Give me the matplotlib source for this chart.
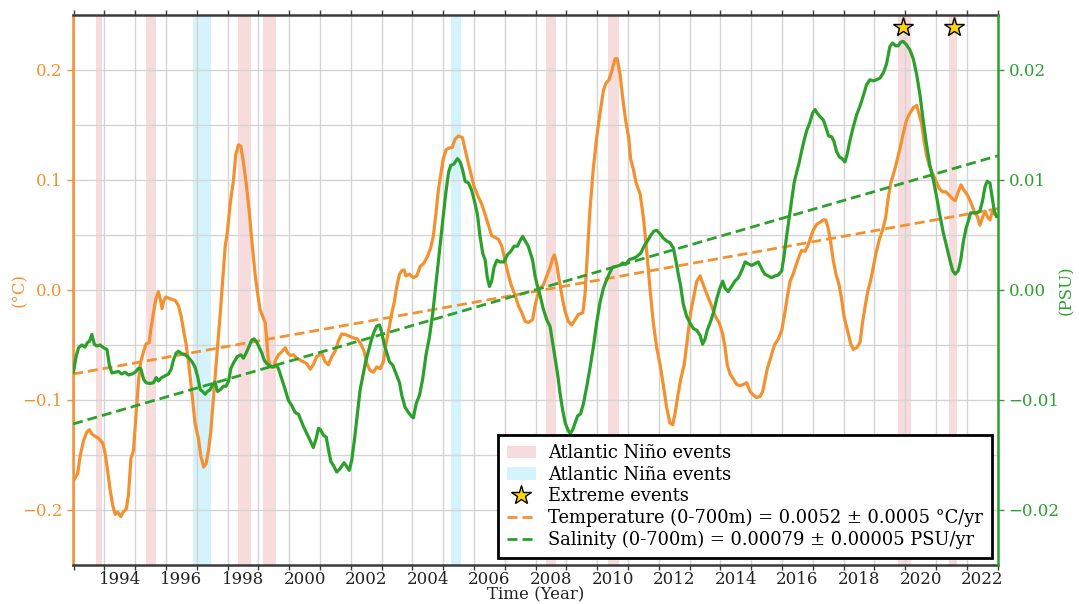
import matplotlib
matplotlib.use("Agg")
import matplotlib.pyplot as plt
import matplotlib.ticker as mticker
from matplotlib.patches import Patch
from matplotlib.lines import Line2D

plt.rcParams['font.family'] = ['DejaVu Serif']
plt.rcParams['axes.unicode_minus'] = True

# ---------------- data ----------------
temp_year = [1992.49, 1992.52, 1992.63, 1992.71, 1992.82, 1992.93, 1993.01, 1993.09, 1993.20, 1993.31,
             1993.44, 1993.52, 1993.60, 1993.69, 1993.77, 1993.85, 1993.93, 1994.03, 1994.12, 1994.21,
             1994.28, 1994.36, 1994.44, 1994.52, 1994.61, 1994.68, 1994.77, 1994.85, 1994.95, 1995.02,
             1995.09, 1995.17, 1995.25, 1995.31, 1995.37, 1995.43, 1995.50, 1995.63, 1995.80, 1995.90,
             1995.99, 1996.07, 1996.15, 1996.24, 1996.34, 1996.44, 1996.55, 1996.63, 1996.72, 1996.80,
             1996.88, 1996.95, 1997.04, 1997.15, 1997.26, 1997.36, 1997.42, 1997.49, 1997.58, 1997.69,
             1997.76, 1997.85, 1997.93, 1998.01, 1998.10, 1998.20, 1998.28, 1998.39, 1998.48, 1998.55,
             1998.64, 1998.72, 1998.77, 1998.82, 1998.91, 1998.99, 1999.06, 1999.15, 1999.26, 1999.37,
             1999.44, 1999.53, 1999.64, 1999.74, 1999.85,
             1999.96, 2000.07, 2000.18, 2000.28, 2000.39, 2000.56, 2000.66, 2000.77, 2000.88, 2000.99,
             2001.10, 2001.20, 2001.31, 2001.45, 2001.58, 2001.71, 2001.82, 2001.93, 2002.02, 2002.12,
             2002.23, 2002.34, 2002.45, 2002.56, 2002.64, 2002.75, 2002.83, 2002.91, 2002.99, 2003.08,
             2003.15, 2003.23, 2003.29, 2003.40, 2003.53, 2003.64, 2003.75, 2003.86, 2003.98, 2004.09,
             2004.18, 2004.27, 2004.34, 2004.43, 2004.50, 2004.59, 2004.68, 2004.79, 2004.88, 2004.99,
             2005.12, 2005.21, 2005.29, 2005.39, 2005.50, 2005.64, 2005.75, 2005.86, 2005.98, 2006.07,
             2006.18, 2006.29, 2006.40, 2006.48, 2006.58, 2006.70, 2006.83, 2006.94, 2007.05, 2007.16,
             2007.26,
             2007.40, 2007.48, 2007.56, 2007.64, 2007.75, 2007.86, 2007.97, 2008.05, 2008.11, 2008.18,
             2008.27, 2008.37, 2008.45, 2008.56, 2008.67, 2008.78, 2008.89, 2009.03, 2009.10, 2009.18,
             2009.26, 2009.37, 2009.48, 2009.59, 2009.70, 2009.78, 2009.88, 2009.97, 2010.08, 2010.15,
             2010.24, 2010.33, 2010.42, 2010.52, 2010.58, 2010.67, 2010.76, 2010.89, 2011.00, 2011.10,
             2011.21, 2011.32, 2011.43, 2011.54, 2011.65, 2011.75, 2011.86, 2011.95, 2012.02, 2012.11,
             2012.21, 2012.32, 2012.42, 2012.53, 2012.64, 2012.73, 2012.84, 2012.94, 2013.07, 2013.21,
             2013.33, 2013.46, 2013.57, 2013.65, 2013.72, 2013.81, 2013.92, 2014.03, 2014.13, 2014.24,
             2014.35, 2014.46, 2014.57, 2014.67, 2014.78,
             2014.87, 2014.94, 2015.02, 2015.11, 2015.19, 2015.27, 2015.38, 2015.49, 2015.59, 2015.68,
             2015.76, 2015.86, 2015.95, 2016.05, 2016.13, 2016.24, 2016.33, 2016.41, 2016.51, 2016.62,
             2016.73, 2016.84, 2016.92, 2017.00, 2017.08, 2017.16, 2017.25, 2017.35, 2017.43, 2017.51,
             2017.62, 2017.73, 2017.81, 2017.92, 2018.03, 2018.11, 2018.20, 2018.28, 2018.37, 2018.46,
             2018.55, 2018.66, 2018.76, 2018.86, 2018.95, 2019.03, 2019.13, 2019.22, 2019.33, 2019.43,
             2019.54, 2019.65, 2019.76, 2019.87, 2019.94, 2020.03, 2020.11, 2020.19, 2020.28, 2020.38,
             2020.48, 2020.60, 2020.71, 2020.82, 2020.93, 2021.04, 2021.12, 2021.22, 2021.31, 2021.40,
             2021.49, 2021.58, 2021.67, 2021.76, 2021.84, 2021.92, 2022.00, 2022.09, 2022.16, 2022.25,
             2022.33, 2022.41, 2022.49]

temp_val = [-0.173, -0.172, -0.167, -0.151, -0.137, -0.129, -0.127, -0.131, -0.133, -0.135,
            -0.139, -0.148, -0.164, -0.183, -0.196, -0.204, -0.202, -0.206, -0.2015, -0.199,
            -0.186, -0.153, -0.146, -0.116, -0.081, -0.065, -0.056, -0.049, -0.048, -0.033,
            -0.021, -0.008, -0.0015, -0.008, -0.017, -0.0095, -0.0063, -0.008, -0.0095, -0.014,
            -0.024, -0.037, -0.049, -0.068, -0.094, -0.121, -0.135, -0.151, -0.161, -0.158,
            -0.145, -0.129, -0.097, -0.059, -0.021, 0.0175, 0.040, 0.0526, 0.078, 0.100,
            0.1226, 0.132, 0.1306, 0.116, 0.097, 0.0717, 0.046, 0.0144, -0.0047, -0.0175,
            -0.024, -0.030, -0.046, -0.0636, -0.070, -0.070, -0.0636, -0.059, -0.056, -0.0525,
            -0.057, -0.0595, -0.059, -0.062, -0.0636,
            -0.0653, -0.067, -0.072, -0.068, -0.0605, -0.058, -0.065, -0.068, -0.0605, -0.0557,
            -0.046, -0.040, -0.0404, -0.042, -0.0436, -0.0445, -0.049, -0.0557, -0.067, -0.073,
            -0.0748, -0.070, -0.0716, -0.065, -0.049, -0.0334, -0.0207, -0.011, 0.0032, 0.0144,
            0.0175, 0.0182, 0.0128, 0.0144, 0.0112, 0.0128, 0.0214, 0.024, 0.030, 0.0382,
            0.0494, 0.0717, 0.0908, 0.1067, 0.1194, 0.1274, 0.129, 0.1296, 0.137, 0.140,
            0.1386, 0.1274, 0.1179, 0.1067, 0.094, 0.0844, 0.078, 0.0685, 0.0574, 0.0494,
            0.0478, 0.0462, 0.0398, 0.0303, 0.0175, 0.0048, -0.0047, -0.0143, -0.0207, -0.0286,
            -0.0296,
            -0.027, -0.0143, -0.0047, 0.0016, 0.0048, 0.0128, 0.0207, 0.0287, 0.0319, 0.0239,
            0.008, -0.0079, -0.019, -0.0286, -0.0318, -0.027, -0.0222, -0.0207, -0.0047, 0.0335,
            0.0717, 0.1099, 0.1386, 0.1608, 0.1815, 0.1879, 0.1911, 0.199, 0.2102, 0.2102,
            0.1959, 0.1736, 0.1545, 0.1386, 0.1194, 0.1099, 0.0972, 0.0876, 0.0653, 0.0367,
            0.0016, -0.030, -0.0525, -0.068, -0.0875, -0.1066, -0.121, -0.1225, -0.113, -0.097,
            -0.081, -0.068, -0.046, -0.0207, -0.0047, 0.008, 0.0128, 0.0048, -0.0047, -0.0143,
            -0.0238, -0.030, -0.0397, -0.0525, -0.068, -0.0764, -0.081, -0.086, -0.0869, -0.086,
            -0.0843, -0.0923, -0.0955, -0.0977, -0.097,
            -0.0923, -0.0827, -0.0716, -0.0636, -0.0557, -0.049, -0.0445, -0.0366, -0.0207, -0.0047,
            0.008, 0.0144, 0.0223, 0.0303, 0.036, 0.0351, 0.0398, 0.0462, 0.0542, 0.0596,
            0.0615, 0.0637, 0.0637, 0.0558, 0.043, 0.0271, 0.0144, 0.0048, -0.0079, -0.0238,
            -0.0366, -0.049, -0.054, -0.0525, -0.0477, -0.030, -0.0143, -0.0015, 0.008, 0.0207,
            0.0335, 0.0462, 0.0542, 0.0653, 0.0844, 0.0972, 0.1067, 0.1163, 0.129, 0.1417,
            0.1545, 0.1608, 0.1656, 0.1678, 0.1608, 0.1513, 0.1354, 0.1226, 0.1131, 0.1067,
            0.1003, 0.0924, 0.0892, 0.0892, 0.086, 0.0828, 0.0812, 0.0892, 0.0956, 0.0908,
            0.0876, 0.0828, 0.0765, 0.0701, 0.0669, 0.0589, 0.0653, 0.0717, 0.0669, 0.0637,
            0.0717, 0.0685, 0.0669]

sal_year = [1992.49, 1992.58, 1992.66, 1992.77, 1992.87, 1992.95, 1993.01, 1993.09, 1993.17, 1993.25,
            1993.36, 1993.47, 1993.58, 1993.66, 1993.74, 1993.85, 1993.96, 1994.06, 1994.17, 1994.28,
            1994.39, 1994.50, 1994.61, 1994.68, 1994.77, 1994.85, 1994.98, 1995.09, 1995.18, 1995.25,
            1995.36, 1995.47, 1995.58, 1995.67, 1995.74, 1995.83, 1995.90, 1996.01, 1996.12, 1996.23,
            1996.34, 1996.44, 1996.52, 1996.61, 1996.69, 1996.77, 1996.84, 1996.93, 1997.02, 1997.09,
            1997.17, 1997.26, 1997.36, 1997.45, 1997.53, 1997.60, 1997.71, 1997.82, 1997.93, 1998.01,
            1998.10, 1998.20, 1998.28, 1998.36, 1998.45, 1998.53, 1998.61, 1998.68, 1998.77, 1998.88,
            1998.99, 1999.07, 1999.15, 1999.26, 1999.37, 1999.47, 1999.58, 1999.69, 1999.80,
            1999.96, 2000.07, 2000.18, 2000.28, 2000.37, 2000.45, 2000.52, 2000.61, 2000.70, 2000.77,
            2000.85, 2000.93, 2001.04, 2001.15, 2001.28, 2001.37, 2001.45, 2001.53, 2001.62, 2001.71,
            2001.80, 2001.89, 2001.98, 2002.07, 2002.16, 2002.25, 2002.34, 2002.43, 2002.50, 2002.58,
            2002.67, 2002.75, 2002.86, 2002.97, 2003.08, 2003.15, 2003.26, 2003.37, 2003.46, 2003.53,
            2003.62, 2003.73, 2003.83, 2003.94, 2004.05, 2004.16, 2004.27, 2004.37, 2004.48, 2004.58,
            2004.67, 2004.74, 2004.85, 2004.96, 2005.05, 2005.12, 2005.21, 2005.32, 2005.42, 2005.51,
            2005.61, 2005.69, 2005.78, 2005.86, 2005.93, 2006.00, 2006.07, 2006.15, 2006.24, 2006.34,
            2006.47, 2006.58, 2006.69, 2006.80, 2006.91, 2006.99, 2007.08, 2007.16, 2007.26,
            2007.40, 2007.48, 2007.56, 2007.64, 2007.75, 2007.86, 2007.97, 2008.05, 2008.13, 2008.22,
            2008.29, 2008.38, 2008.46, 2008.55, 2008.62, 2008.70, 2008.78, 2008.86, 2008.96, 2009.05,
            2009.16, 2009.26, 2009.37, 2009.48, 2009.59, 2009.70, 2009.81, 2009.91, 2010.00, 2010.11,
            2010.22, 2010.33, 2010.43, 2010.54, 2010.67, 2010.78, 2010.91, 2011.02, 2011.13, 2011.23,
            2011.34, 2011.43, 2011.54, 2011.65, 2011.75, 2011.86, 2011.97, 2012.05, 2012.13, 2012.21,
            2012.29, 2012.40, 2012.51, 2012.62, 2012.73, 2012.84, 2012.92, 2013.00, 2013.07, 2013.18,
            2013.27, 2013.38, 2013.48, 2013.57, 2013.65, 2013.75, 2013.86, 2013.97, 2014.08, 2014.19,
            2014.30, 2014.40, 2014.51, 2014.62, 2014.73,
            2014.87, 2014.94, 2015.05, 2015.16, 2015.27, 2015.38, 2015.49, 2015.56, 2015.65, 2015.73,
            2015.81, 2015.89, 2015.97, 2016.06, 2016.13, 2016.21, 2016.30, 2016.41, 2016.49, 2016.57,
            2016.64, 2016.73, 2016.84, 2016.92, 2017.01, 2017.11, 2017.18, 2017.27, 2017.36, 2017.45,
            2017.54, 2017.62, 2017.70, 2017.81, 2017.92, 2018.03, 2018.14, 2018.24, 2018.35, 2018.46,
            2018.57, 2018.68, 2018.79, 2018.89, 2019.00, 2019.09, 2019.19, 2019.27, 2019.35, 2019.43,
            2019.54, 2019.65, 2019.76, 2019.87, 2019.98, 2020.08, 2020.19, 2020.30, 2020.41, 2020.52,
            2020.62, 2020.73, 2020.84, 2020.95, 2021.04, 2021.12, 2021.22, 2021.30, 2021.38, 2021.47,
            2021.54, 2021.62, 2021.71, 2021.81, 2021.92, 2022.01, 2022.09, 2022.16, 2022.25, 2022.32,
            2022.39, 2022.46]

sal_val = [-0.00748, -0.00605, -0.00525, -0.00500, -0.00519, -0.00477, -0.00468, -0.00404, -0.00493, -0.00509,
           -0.00500, -0.00525, -0.00540, -0.00684, -0.00754, -0.00748, -0.00741, -0.00764, -0.00748, -0.00773,
           -0.00764, -0.00748, -0.00710, -0.00716, -0.00812, -0.00843, -0.00850, -0.00843, -0.00796, -0.00827,
           -0.00796, -0.00780, -0.00764, -0.00716, -0.00636, -0.00573, -0.00557, -0.00579, -0.00589, -0.00614,
           -0.00652, -0.00700, -0.00780, -0.00907, -0.00923, -0.00948, -0.00923, -0.00907, -0.00859, -0.00837,
           -0.00923, -0.00907, -0.00875, -0.00875, -0.00827, -0.00716, -0.00652, -0.00605, -0.00589, -0.00620,
           -0.00573, -0.00509, -0.00455, -0.00445, -0.00477, -0.00525, -0.00573, -0.00636, -0.00668, -0.00694,
           -0.00700, -0.00684, -0.00716, -0.00812, -0.00907, -0.01003, -0.01050, -0.01114, -0.01130,
           -0.01241, -0.01305, -0.01369, -0.01432, -0.01353, -0.01257, -0.01273, -0.01321, -0.01337, -0.01448,
           -0.01560, -0.01592, -0.01655, -0.01624, -0.01570, -0.01608, -0.01640, -0.01544, -0.01353, -0.01130,
           -0.00907, -0.00780, -0.00652, -0.00557, -0.00461, -0.00382, -0.00328, -0.00318, -0.00382, -0.00493,
           -0.00573, -0.00652, -0.00684, -0.00764, -0.00843, -0.00955, -0.01066, -0.01114, -0.01146, -0.01162,
           -0.01034, -0.00955, -0.00812, -0.00589, -0.00430, -0.00207, 0.00080, 0.00335, 0.00621, 0.00876,
           0.01067, 0.01131, 0.01147, 0.01194, 0.01163, 0.01099, 0.00988, 0.00972, 0.00908, 0.00812,
           0.00685, 0.00494, 0.00335, 0.00271, 0.00112, 0.00032, 0.00080, 0.00207, 0.00271, 0.00255,
           0.00255, 0.00319, 0.00351, 0.00398, 0.00398, 0.00446, 0.00487, 0.00446, 0.00398,
           0.00271, 0.00128, 0.00032, -0.00047, -0.00175, -0.00270, -0.00334, -0.00477, -0.00620, -0.00780,
           -0.00939, -0.01098, -0.01210, -0.01273, -0.01305, -0.01273, -0.01210, -0.01146, -0.01124, -0.01034,
           -0.00875, -0.00716, -0.00525, -0.00300, -0.00111, 0.00016, 0.00096, 0.00160, 0.00207, 0.00214,
           0.00223, 0.00246, 0.00233, 0.00277, 0.00287, 0.00303, 0.00335, 0.00398, 0.00446, 0.00494,
           0.00535, 0.00542, 0.00510, 0.00469, 0.00446, 0.00430, 0.00382, 0.00271, 0.00144, 0.00032,
           -0.00127, -0.00238, -0.00300, -0.00350, -0.00366, -0.00414, -0.00493, -0.00445, -0.00366, -0.00286,
           -0.00207, -0.00079, 0.00016, 0.00080, 0.00016, -0.00015, 0.00032, 0.00080, 0.00112, 0.00175,
           0.00255, 0.00239, 0.00223, 0.00239, 0.00255,
           0.00175, 0.00144, 0.00128, 0.00112, 0.00128, 0.00137, 0.00175, 0.00303, 0.00494, 0.00653,
           0.00812, 0.00972, 0.01067, 0.01163, 0.01258, 0.01354, 0.01449, 0.01529, 0.01608, 0.01640,
           0.01608, 0.01577, 0.01545, 0.01481, 0.01401, 0.01392, 0.01354, 0.01258, 0.01210, 0.01194,
           0.01163, 0.01242, 0.01354, 0.01481, 0.01592, 0.01672, 0.01768, 0.01863, 0.01911, 0.01901,
           0.01911, 0.01927, 0.01975, 0.02054, 0.02213, 0.02245, 0.02220, 0.02220, 0.02252, 0.02261,
           0.02229, 0.02182, 0.02102, 0.01959, 0.01768, 0.01545, 0.01322, 0.01131, 0.01003, 0.00844,
           0.00685, 0.00526, 0.00398, 0.00271, 0.00175, 0.00144, 0.00175, 0.00271, 0.00430, 0.00558,
           0.00621, 0.00701, 0.00701, 0.00701, 0.00717, 0.00812, 0.00940, 0.00988, 0.00972, 0.00844,
           0.00717, 0.00669]

# linear trends (end points)
trend_year = [1992.48, 2022.50]
temp_trend = [-0.0764, 0.0739]
sal_trend = [-0.01218, 0.01220]

# event periods (start, end) in decimal years
nino_events = [(1993.21, 1993.43), (1994.86, 1995.16), (1997.83, 1998.25), (1998.66, 1999.07),
               (2007.84, 2008.16), (2009.84, 2010.22), (2019.27, 2019.67), (2020.92, 2021.18)]
nina_events = [(1996.37, 1996.95), (2004.75, 2005.09)]
extreme_years = [2019.41, 2021.08]
extreme_level = 0.239

year_labels = list(range(1994, 2023, 2))
year_grid = [y + 0.5 for y in range(1992, 2023)]

temp_ticks = [-0.2, -0.1, 0.0, 0.1, 0.2]
temp_minor = [-0.15, -0.05, 0.05, 0.15]
sal_ticks = [-0.02, -0.01, 0.0, 0.01, 0.02]

leg_labels = ["Atlantic Niño events", "Atlantic Niña events", "Extreme events",
              "Temperature (0-700m) = 0.0052 ± 0.0005 °C/yr",
              "Salinity (0-700m) = 0.00079 ± 0.00005 PSU/yr"]

# ---------------- style ----------------
ORANGE = '#f39130'
GREEN = '#2ca02c'
PINK = '#f6dcdd'
BLUE = '#d5f3fc'
GRID = '#d4d4d4'
DARK = '#3a3a3a'

fig = plt.figure(figsize=(10.79, 6.04), dpi=100)
ax = fig.add_axes([0.0677, 0.0646, 0.8575, 0.9106])
ax2 = ax.twinx()

for s, e in nino_events:
    ax.axvspan(s, e, color=PINK, lw=0, zorder=1)
for s, e in nina_events:
    ax.axvspan(s, e, color=BLUE, lw=0, zorder=1)

ax.plot(temp_year, temp_val, color=ORANGE, lw=2.3, zorder=3)
ax.plot(trend_year, temp_trend, color=ORANGE, lw=2.0, ls=(0, (3.6, 1.8)), zorder=3)
ax2.plot(sal_year, sal_val, color=GREEN, lw=2.3, zorder=3)
ax2.plot(trend_year, sal_trend, color=GREEN, lw=2.0, ls=(0, (3.6, 1.8)), zorder=3)
ax2.plot(extreme_years, [extreme_level] * len(extreme_years), transform=ax.transData,
         ls='none', marker='*', markersize=15, markerfacecolor='gold', markeredgecolor='black',
         markeredgewidth=1.0, zorder=6, clip_on=False)

ax.set_xlim(1992.48, 2022.52)
ax.set_ylim(-0.25, 0.25)
ax2.set_ylim(-0.025, 0.025)

# x ticks: labels at years, tick marks / grid at mid-year
ax.set_xticks(year_labels)
ax.set_xticklabels([str(y) for y in year_labels])
ax.set_xticks(year_grid, minor=True)
ax.tick_params(axis='x', which='major', length=0, labelsize=12, pad=4, colors='#222222')
ax.tick_params(axis='x', which='minor', length=3.5, width=1.0, color=DARK, top=True, bottom=True,
               direction='out')
ax.grid(True, axis='x', which='minor', color=GRID, lw=1.0)

ax.set_yticks(temp_ticks)
ax.set_yticks(temp_minor, minor=True)
ax.yaxis.set_major_formatter(mticker.FuncFormatter(
    lambda v, p: f"{v:.1f}".replace('-', '\u2212') if abs(v) > 1e-9 else "0.0"))
ax.tick_params(axis='y', which='major', length=4, width=1.0, color=ORANGE, labelcolor=ORANGE,
               labelsize=12)
ax.tick_params(axis='y', which='minor', length=0)
ax.grid(True, axis='y', which='both', color=GRID, lw=1.0)

ax2.set_yticks(sal_ticks)
ax2.yaxis.set_major_formatter(mticker.FuncFormatter(
    lambda v, p: f"{v:.2f}".replace('-', '\u2212') if abs(v) > 1e-9 else "0.00"))
ax2.tick_params(axis='y', which='major', length=4, width=1.0, color=GREEN, labelcolor=GREEN,
                labelsize=12)

ax.set_ylabel("(°C)", color=ORANGE, fontsize=12, labelpad=-4)
ax2.set_ylabel("(PSU)", color=GREEN, fontsize=12, labelpad=-1)
ax.set_xlabel("Time (Year)", fontsize=12, labelpad=-1, color='#222222')

ax.spines['left'].set_color(ORANGE)
ax.spines['left'].set_linewidth(1.8)
ax.spines['right'].set_visible(False)
ax.spines['top'].set_color(DARK)
ax.spines['top'].set_linewidth(1.8)
ax.spines['bottom'].set_color(DARK)
ax.spines['bottom'].set_linewidth(1.8)
ax2.spines['right'].set_color(GREEN)
ax2.spines['right'].set_linewidth(1.8)
ax2.spines['left'].set_visible(False)
ax2.spines['top'].set_visible(False)
ax2.spines['bottom'].set_visible(False)

handles = [Patch(facecolor=PINK, edgecolor='none'),
           Patch(facecolor=BLUE, edgecolor='none'),
           Line2D([], [], ls='none', marker='*', markersize=15, markerfacecolor='gold',
                  markeredgecolor='black', markeredgewidth=1.0),
           Line2D([], [], color=ORANGE, lw=2.0, ls=(0, (3.6, 1.8))),
           Line2D([], [], color=GREEN, lw=2.0, ls=(0, (3.6, 1.8)))]
leg = ax2.legend(handles, leg_labels, loc='lower right', bbox_to_anchor=(0.9932, 0.0127),
                 borderaxespad=0, fontsize=12.9, frameon=True, fancybox=False, framealpha=1,
                 edgecolor='black', handlelength=1.6, handletextpad=0.7, labelspacing=0.2,
                 borderpad=0.5)
leg.get_frame().set_linewidth(2.0)
leg.set_zorder(10)

fig.savefig("out.png", dpi=100)
